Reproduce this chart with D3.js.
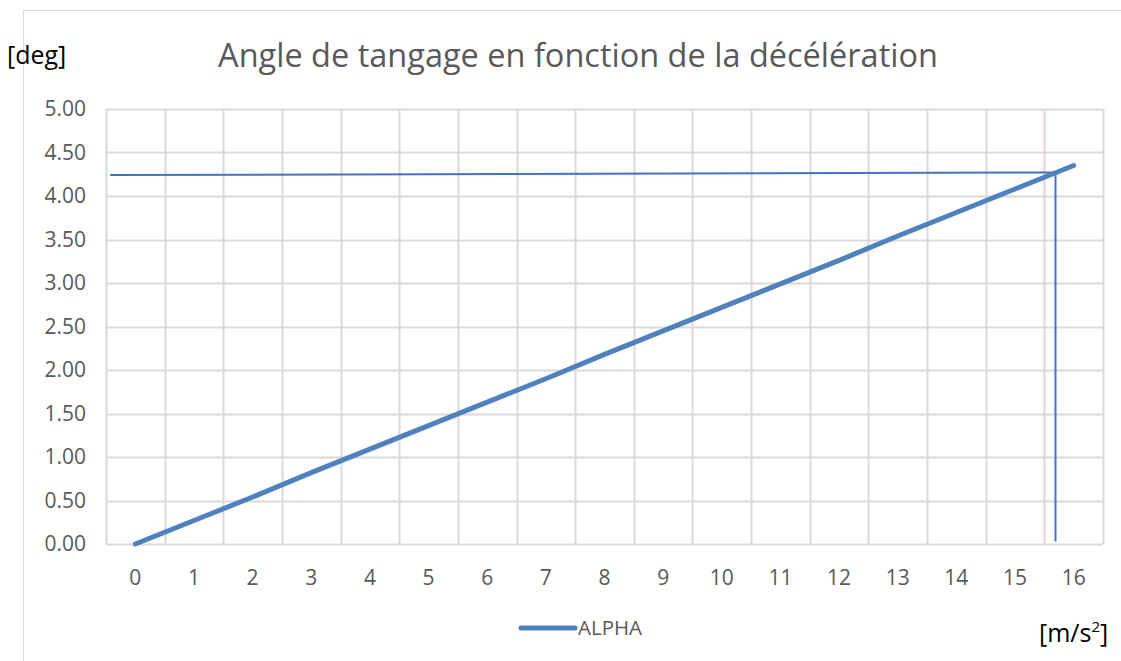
<!DOCTYPE html>
<html>
<head>
<meta charset="utf-8">
<script src="https://cdn.jsdelivr.net/npm/d3@7"></script>
<style>
  body { margin: 0; background: #fff; }
  svg { font-family: "Open Sans", "Noto Sans", sans-serif; }
</style>
</head>
<body>
<div id="chart"></div>
<script>
// decelerations (category labels, m/s²)
const decel = [0, 1, 2, 3, 4, 5, 6, 7, 8, 9, 10, 11, 12, 13, 14, 15, 16];
// pitch angle ALPHA (deg)
const alpha = [0, 0.27, 0.54, 0.82, 1.09, 1.36, 1.63, 1.90, 2.18, 2.45, 2.72, 2.99, 3.26, 3.54, 3.81, 4.08, 4.35];
const yTicks = [0, 0.5, 1, 1.5, 2, 2.5, 3, 3.5, 4, 4.5, 5];
// hand-drawn reading lines: [x index, value]
const hLine = [[-0.43, 4.24], [15.69, 4.27]];
const vLine = [[15.69, 4.27], [15.69, 0.03]];
const seriesName = 'ALPHA';

const W = 1121, H = 661;
const margin = {top: 109, right: 18, bottom: 117, left: 106};
const width = W - margin.left - margin.right;
const height = H - margin.top - margin.bottom;

const svg = d3.select('#chart').append('svg')
  .attr('width', W)
  .attr('height', H);

// chart frame
svg.append('path')
  .attr('d', `M23.5,${H} V10.5 H${W}`)
  .attr('fill', 'none')
  .attr('stroke', '#d9d9d9')
  .attr('stroke-width', 1);

const g = svg.append('g')
  .attr('transform', `translate(${margin.left}, ${margin.top})`);

const x = d3.scaleLinear().domain([-0.5, decel.length - 0.5]).range([0, width]);
const y = d3.scaleLinear().domain([0, 5]).range([height, 0]);

// horizontal gridlines
g.append('g')
  .selectAll('line')
  .data(yTicks)
  .join('line')
  .attr('x1', 0)
  .attr('x2', width)
  .attr('y1', d => Math.round(y(d)) + 0.5)
  .attr('y2', d => Math.round(y(d)) + 0.5)
  .attr('stroke', '#d9d9d9')
  .attr('stroke-width', 2);

// vertical gridlines between categories
g.append('g')
  .selectAll('line')
  .data(d3.range(decel.length + 1))
  .join('line')
  .attr('x1', d => Math.round(x(d - 0.5)) + 0.5)
  .attr('x2', d => Math.round(x(d - 0.5)) + 0.5)
  .attr('y1', 0)
  .attr('y2', height)
  .attr('stroke', (d, i) => i === 16 ? '#e6d2d4' : '#d9d9d9')
  .attr('stroke-width', 2);

// y tick labels
g.append('g')
  .selectAll('text')
  .data(yTicks)
  .join('text')
  .attr('x', -20)
  .attr('y', d => y(d))
  .attr('dy', '0.35em')
  .attr('text-anchor', 'end')
  .attr('fill', '#595959')
  .attr('font-size', 21)
  .text(d => d.toFixed(2));

// x tick labels
g.append('g')
  .selectAll('text')
  .data(decel)
  .join('text')
  .attr('x', (d, i) => x(i))
  .attr('y', height + 41)
  .attr('text-anchor', 'middle')
  .attr('fill', '#595959')
  .attr('font-size', 21)
  .text(d => d);

const thin = d3.line()
  .x(d => x(d[0]))
  .y(d => y(d[1]));

g.append('path')
  .attr('d', thin(hLine))
  .attr('fill', 'none')
  .attr('stroke', '#4472c4')
  .attr('stroke-width', 2);

g.append('path')
  .attr('d', thin(vLine))
  .attr('fill', 'none')
  .attr('stroke', '#4472c4')
  .attr('stroke-width', 2);

// data series
const line = d3.line()
  .x((d, i) => x(i))
  .y(d => y(d));

g.append('path')
  .datum(alpha)
  .attr('d', line)
  .attr('fill', 'none')
  .attr('stroke', '#4f81bd')
  .attr('stroke-width', 5)
  .attr('stroke-linecap', 'round');

// title
svg.append('text')
  .attr('x', 578)
  .attr('y', 67)
  .attr('text-anchor', 'middle')
  .attr('fill', '#595959')
  .attr('font-size', 32.5)
  .text('Angle de tangage en fonction de la décélération');

// axis units
svg.append('text')
  .attr('x', 7)
  .attr('y', 64)
  .attr('fill', '#000')
  .attr('font-size', 25)
  .text('[deg]');

const unit = svg.append('text')
  .attr('x', 1039)
  .attr('y', 642)
  .attr('fill', '#000')
  .attr('font-size', 25);
unit.append('tspan').text('[m/s');
unit.append('tspan').attr('font-size', 15).attr('dy', -10).text('2');
unit.append('tspan').attr('dy', 10).text(']');

// legend
const legend = svg.append('g').attr('transform', 'translate(521, 628)');
legend.append('line')
  .attr('x1', 0)
  .attr('x2', 54)
  .attr('stroke', '#4f81bd')
  .attr('stroke-width', 5)
  .attr('stroke-linecap', 'round');
legend.append('text')
  .attr('x', 57)
  .attr('y', 0)
  .attr('dy', '0.35em')
  .attr('fill', '#595959')
  .attr('font-size', 20.5)
  .text(seriesName);
</script>
</body>
</html>
